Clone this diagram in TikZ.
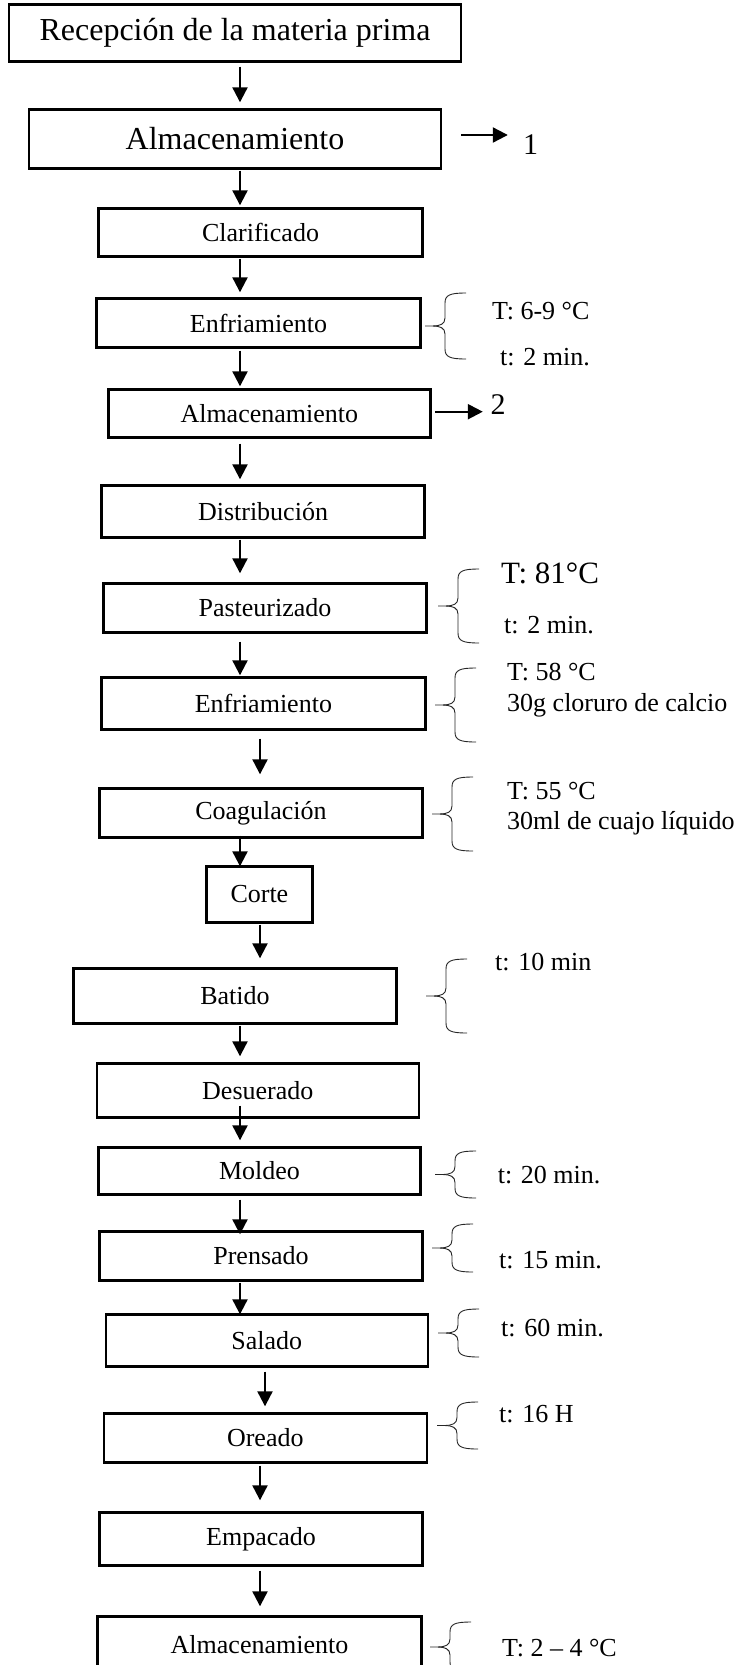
\documentclass[tikz,border=0pt]{standalone}
\usepackage{fontspec}
\setmainfont{Liberation Serif}
\usetikzlibrary{arrows.meta}

% curly bracket opening to the right: #1 tip x, #2 top y, #3 bottom y
\newcommand{\sidebrace}[3]{%
  \draw[bracearm] ({#1+41},#2) .. controls ({#1+25},#2) and ({#1+20},{#2+2}) .. ({#1+20},{#2+10})
    -- ({#1+20},{(#2+#3)/2-8}) .. controls ({#1+20},{(#2+#3)/2-2}) and ({#1+15},{(#2+#3)/2}) .. ({#1+8},{(#2+#3)/2})
    -- (#1,{(#2+#3)/2});
  \draw[bracearm] ({#1+41},#3) .. controls ({#1+25},#3) and ({#1+20},{#3-2}) .. ({#1+20},{#3-10})
    -- ({#1+20},{(#2+#3)/2+8}) .. controls ({#1+20},{(#2+#3)/2+2}) and ({#1+15},{(#2+#3)/2}) .. ({#1+8},{(#2+#3)/2});
}

\begin{document}
\begin{tikzpicture}[x=1pt, y=-1pt,
  stepbox/.style={draw, line width=2.4pt, inner sep=0pt, font=\fontsize{26}{30}\selectfont},
  bigbox/.style={stepbox, font=\fontsize{32}{38}\selectfont},
  flow/.style={-{Triangle[length=15pt, width=15pt]}, line width=2.2pt, shorten <=1pt, shorten >=2pt},
  note/.style={anchor=base west, inner sep=0pt, font=\fontsize{26}{30}\selectfont},
  mark label/.style={inner sep=0pt, font=\fontsize{30}{36}\selectfont},
  bracearm/.style={line width=0.9pt, black!85}]

  \useasboundingbox (0,0) rectangle (744,1665);

  % ── process steps ──────────────────────────────────────────────

  \node[bigbox, minimum width=452pt, minimum height=57pt] (rec) at (235,33) {Recepción de la materia prima};
  \node[bigbox, minimum width=412pt, minimum height=59pt] (alm1) at (235,139) {Almacenamiento};
  \node[stepbox, minimum width=324pt, minimum height=48pt] (clar) at (260.5,232.5) {Clarificado};
  \node[stepbox, minimum width=324pt, minimum height=49pt] (enf1) at (258.5,323) {Enfriamiento};
  \node[stepbox, minimum width=322pt, minimum height=48pt] (alm2) at (269.3,413.5) {Almacenamiento};
  \node[stepbox, minimum width=323pt, minimum height=52pt] (dist) at (263,511.5) {Distribución};
  \node[stepbox, minimum width=323pt, minimum height=49pt] (past) at (265,608) {Pasteurizado};
  \node[stepbox, minimum width=324pt, minimum height=52pt] (enf2) at (263.4,703.5) {Enfriamiento};
  \node[stepbox, minimum width=323pt, minimum height=49pt] (coag) at (261,813) {Coagulación};
  \node[stepbox, minimum width=106pt, minimum height=56pt] (corte) at (259.4,894.5) {Corte};
  \node[stepbox, minimum width=323pt, minimum height=55pt] (bat) at (235,996) {Batido};
  \node[stepbox, minimum width=322pt, minimum height=54pt] (des) at (257.8,1090.5) {Desuerado};
  \node[stepbox, minimum width=322pt, minimum height=47pt] (mold) at (259.5,1171) {Moldeo};
  \node[stepbox, minimum width=323pt, minimum height=49pt] (pren) at (261,1256) {Prensado};
  \node[stepbox, minimum width=322pt, minimum height=52pt] (sal) at (266.8,1340.5) {Salado};
  \node[stepbox, minimum width=323pt, minimum height=49pt] (ore) at (265.3,1438) {Oreado};
  \node[stepbox, minimum width=323pt, minimum height=53pt] (emp) at (261,1539) {Empacado};
  \node[stepbox, minimum width=324pt, minimum height=57pt] (alm3) at (259.5,1645) {Almacenamiento};

  % ── connectors ─────────────────────────────────────────────────

  \coordinate (spine) at (240,0);
  \coordinate (spineb) at (260,0);
  \coordinate (spinec) at (265,0);

  \draw[flow, shorten <=4pt, shorten >=6pt] (rec.south -| spine) -- (alm1.north -| spine);
  \draw[flow] (alm1.south -| spine) -- (clar.north -| spine);
  \draw[flow, shorten >=5pt] (clar.south -| spine) -- (enf1.north -| spine);
  \draw[flow, shorten <=2pt] (enf1.south -| spine) -- (alm2.north -| spine);
  \draw[flow, shorten <=5pt, shorten >=5pt] (alm2.south -| spine) -- (dist.north -| spine);
  \draw[flow, shorten >=9pt] (dist.south -| spine) -- (past.north -| spine);
  \draw[flow, shorten <=8pt, shorten >=1pt] (past.south -| spine) -- (enf2.north -| spine);
  \draw[flow, shorten <=8pt, shorten >=13pt] (enf2.south -| spineb) -- (coag.north -| spineb);
  \draw[flow, shorten <=-3pt, shorten >=-1pt] (coag.south -| spine) -- (corte.north -| spine);
  \draw[flow, shorten >=9pt] (corte.south -| spineb) -- (bat.north -| spineb);
  \draw[flow, shorten >=6pt] (bat.south -| spine) -- (des.north -| spine);
  \draw[flow, shorten <=-13pt, shorten >=6pt] (des.south -| spine) -- (mold.north -| spine);
  \draw[flow, shorten <=4pt, shorten >=-4pt] (mold.south -| spine) -- (pren.north -| spine);
  \draw[flow, shorten >=-1pt] (pren.south -| spine) -- (sal.north -| spine);
  \draw[flow, shorten <=4pt, shorten >=6pt] (sal.south -| spinec) -- (ore.north -| spinec);
  \draw[flow, shorten <=2pt, shorten >=11pt] (ore.south -| spineb) -- (emp.north -| spineb);
  \draw[flow, shorten <=4pt, shorten >=9pt] (emp.south -| spineb) -- (alm3.north -| spineb);

  % side outputs
  \node[mark label] (one) at (530.5,145) {1};
  \node[mark label] (two) at (498,405) {2};
  \coordinate (out1) at (461,135);
  \coordinate (out2) at (435,411.7);
  \draw[flow, shorten <=0pt, shorten >=15pt] (out1) -- (out1 -| one.west);
  \draw[flow, shorten <=0pt, shorten >=7.5pt] (out2) -- (out2 -| two.west);

  % ── conditions ─────────────────────────────────────────────────

  \sidebrace{425}{293}{359}
  \node[note] (enf1T) at (492,319) {T: 6-9 °C};
  \node[note] (enf1t) at (500,365) {t: 2 min.};

  \sidebrace{438}{569}{643}
  \node[note, font=\fontsize{31}{36}\selectfont] (pastT) at (501,583) {T: 81°C};
  \node[note] (pastt) at (504,633) {t: 2 min.};

  \sidebrace{435}{668}{742}
  \node[note] (enf2T) at (507,680) {T: 58 °C};
  \node[note] (enf2c) at (507,711) {30g cloruro de calcio};

  \sidebrace{432}{777}{851}
  \node[note] (coagT) at (507,799) {T: 55 °C};
  \node[note] (coagc) at (507,829) {30ml de cuajo líquido};

  \sidebrace{426}{959}{1033}
  \node[note] (batt) at (495,970) {t: 10 min};

  \sidebrace{435}{1151}{1198}
  \node[note] (moldt) at (497.6,1183) {t: 20 min.};

  \sidebrace{432}{1224}{1272}
  \node[note] (prent) at (499,1268) {t: 15 min.};

  \sidebrace{438}{1309}{1357}
  \node[note] (salt) at (501,1336) {t: 60 min.};

  \sidebrace{437}{1402}{1449}
  \node[note] (oret) at (499,1422) {t: 16 H};

  \sidebrace{430}{1622}{1672}
  \node[note] (alm3T) at (502,1656) {T: 2 – 4 °C};

\end{tikzpicture}
\end{document}
